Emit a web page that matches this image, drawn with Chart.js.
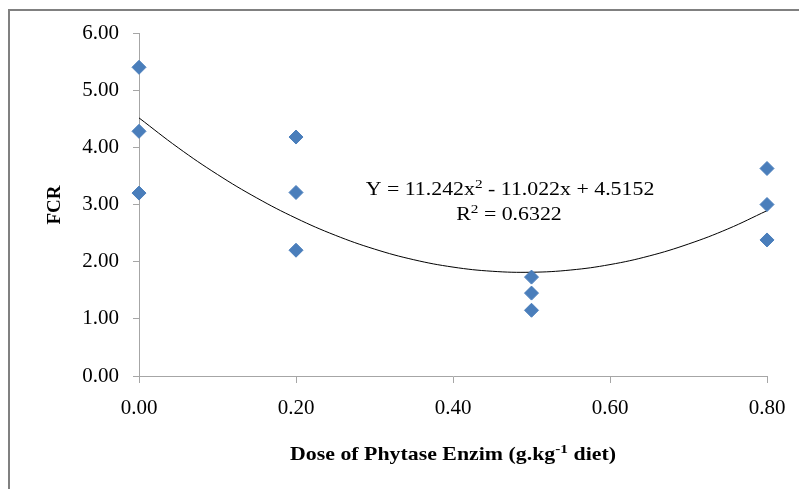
<!DOCTYPE html>
<html>
<head>
<meta charset="utf-8">
<script src="https://cdn.jsdelivr.net/npm/chart.js@4"></script>
<style>
  html, body { margin: 0; padding: 0; background: #fff; }
  #wrap { width: 799px; height: 489px; position: relative; }
</style>
</head>
<body>
<div id="wrap"><canvas id="fcrChart" width="799" height="489"></canvas></div>
<script>
// Observed points (dose, FCR)
const doses = [0, 0, 0, 0.2, 0.2, 0.2, 0.5, 0.5, 0.5, 0.8, 0.8, 0.8];
const fcr = [5.40, 4.28, 3.20, 4.18, 3.21, 2.20, 1.73, 1.45, 1.15, 3.63, 3.00, 2.38];

// Trend curve points
const trendX = [0, 0.05, 0.10, 0.15, 0.20, 0.25, 0.30, 0.35, 0.40, 0.45, 0.50, 0.55, 0.60, 0.65, 0.70, 0.75, 0.80];
const trendY = [4.515, 3.992, 3.525, 3.115, 2.761, 2.462, 2.220, 2.034, 1.905, 1.832, 1.815, 1.854, 1.949, 2.100, 2.309, 2.572, 2.892];

const xTicks = [0, 0.2, 0.4, 0.6, 0.8];
const yTicks = [0, 1, 2, 3, 4, 5, 6];

const SERIF = '"Liberation Serif", "Times New Roman", serif';
const AXIS_GRAY = '#a6a6a6';
const SX = 1.15; // horizontal stretch seen in the reference text

// draw a run of text pieces, some raised as superscripts
function drawRuns(ctx, runs, x, y, size, bold, align) {
    ctx.save();
    ctx.fillStyle = '#000';
    ctx.textBaseline = 'alphabetic';
    ctx.textAlign = 'left';
    const w = runs.reduce((s, r) => {
        ctx.font = (bold ? 'bold ' : '') + (r.sup ? size * 0.7 : size) + 'px ' + SERIF;
        return s + ctx.measureText(r.t).width;
    }, 0);
    ctx.translate(x, y);
    ctx.scale(SX, 1);
    let cx = align === 'center' ? -w / 2 : 0;
    runs.forEach(r => {
        ctx.font = (bold ? 'bold ' : '') + (r.sup ? size * 0.7 : size) + 'px ' + SERIF;
        ctx.fillText(r.t, cx, r.sup ? -size * 0.38 : 0);
        cx += ctx.measureText(r.t).width;
    });
    ctx.restore();
}

const decorations = {
    id: 'decorations',
    afterDraw(chart) {
        const ctx = chart.ctx;
        // outer frame
        ctx.save();
        ctx.strokeStyle = '#808080';
        ctx.lineWidth = 2;
        ctx.strokeRect(9, 10, 820, 520);
        ctx.restore();

        // equation and R²
        drawRuns(ctx, [
            { t: 'Y = 11.242x' }, { t: '2', sup: true }, { t: ' - 11.022x + 4.5152' }
        ], 510, 195, 19, false, 'center');
        drawRuns(ctx, [
            { t: 'R' }, { t: '2', sup: true }, { t: ' = 0.6322' }
        ], 509, 220, 19, false, 'center');

        // x axis title
        drawRuns(ctx, [
            { t: 'Dose of Phytase Enzim (g.kg' }, { t: '-1', sup: true }, { t: ' diet)' }
        ], 453, 460, 19, true, 'center');

        // y axis title
        ctx.save();
        ctx.translate(60, 205);
        ctx.rotate(-Math.PI / 2);
        ctx.font = 'bold 19px ' + SERIF;
        ctx.fillStyle = '#000';
        ctx.textAlign = 'center';
        ctx.textBaseline = 'alphabetic';
        ctx.fillText('FCR', 0, 0);
        ctx.restore();
    }
};

const ctx = document.getElementById('fcrChart').getContext('2d');
const chart = new Chart(ctx, {
    type: 'scatter',
    data: {
        datasets: [
            {
                label: 'FCR',
                data: doses.map((d, i) => ({ x: d, y: fcr[i] })),
                pointStyle: 'rectRot',
                pointRadius: 7,
                pointBackgroundColor: '#4a7ebb',
                pointBorderColor: '#4a7ebb',
                pointBorderWidth: 1,
                clip: false,
                order: 1,
            },
            {
                label: 'Poly. (FCR)',
                data: trendX.map((x, i) => ({ x: x, y: trendY[i] })),
                showLine: true,
                borderColor: '#000',
                borderWidth: 1,
                pointRadius: 0,
                tension: 0.4,
                clip: false,
                order: 2,
            },
        ],
    },
    options: {
        responsive: false,
        animation: false,
        layout: { padding: { top: 33, right: 32, left: 0, bottom: 0 } },
        plugins: {
            legend: { display: false },
            tooltip: { enabled: false },
        },
        scales: {
            x: {
                type: 'linear',
                min: 0,
                max: 0.8,
                afterFit: axis => { axis.height = 489 - 376; },
                afterBuildTicks: axis => { axis.ticks = xTicks.map(v => ({ value: v })); },
                ticks: {
                    color: '#000',
                    font: { family: SERIF, size: 21 },
                    padding: 13,
                    callback: v => v.toFixed(2),
                },
                grid: { drawOnChartArea: false, color: AXIS_GRAY, tickLength: 7, z: -1 },
                border: { color: AXIS_GRAY, width: 1, z: -1 },
            },
            y: {
                type: 'linear',
                min: 0,
                max: 6,
                afterFit: axis => { axis.width = 139; },
                afterBuildTicks: axis => { axis.ticks = yTicks.map(v => ({ value: v })); },
                ticks: {
                    color: '#000',
                    font: { family: SERIF, size: 21 },
                    padding: 14,
                    callback: v => v.toFixed(2),
                },
                grid: { drawOnChartArea: false, color: AXIS_GRAY, tickLength: 6, z: -1 },
                border: { color: AXIS_GRAY, width: 1, z: -1 },
            },
        },
    },
    plugins: [decorations],
});
</script>
</body>
</html>
